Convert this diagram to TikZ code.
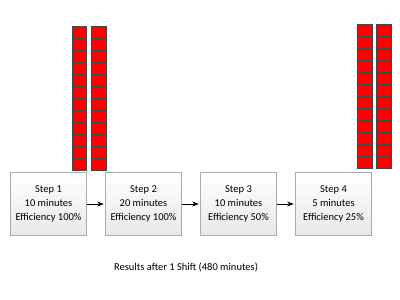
\documentclass[tikz,border=0pt]{standalone}
\usepackage{fontspec}
\setmainfont{Carlito}
\usetikzlibrary{arrows.meta}

\begin{document}
\begin{tikzpicture}[
  x=1pt, y=-1pt,
  font=\fontsize{10.5}{14}\selectfont, >=Stealth,
  stepbox/.style={draw=gray!65,top color=white,bottom color=gray!18,align=center,
    minimum width=76pt,minimum height=63pt,inner sep=2pt,text=black},
  blk/.style={draw=gray!55!black,fill=red,minimum width=14.5pt,minimum height=12pt,inner sep=0pt},
  flow/.style={->,thick,shorten >=1.5pt},
]
\useasboundingbox (0,0) rectangle (400,300);
% process steps
\node[stepbox] (s1) at (48.5,204)  {Step 1\\10 minutes\\Efficiency 100\%};
\node[stepbox] (s2) at (143.5,204) {Step 2\\20 minutes\\Efficiency 100\%};
\node[stepbox] (s3) at (238.5,204) {Step 3\\10 minutes\\Efficiency 50\%};
\node[stepbox] (s4) at (333.5,204) {Step 4\\5 minutes\\Efficiency 25\%};
\draw[flow] (s1) -- (s2);
\draw[flow] (s2) -- (s3);
\draw[flow] (s3) -- (s4);
% piled up parts
\foreach \i in {1,...,12} {
  \node[blk] (a\i) at (79.3,20+12*\i) {};
  \node[blk] (b\i) at (98.5,20+12*\i) {};
  \node[blk] (c\i) at (364.5,18+12*\i) {};
  \node[blk] (d\i) at (383.5,18+12*\i) {};
}
\node[text=black] (res) at (186,267) {Results after 1 Shift (480 minutes)};
\end{tikzpicture}
\end{document}
